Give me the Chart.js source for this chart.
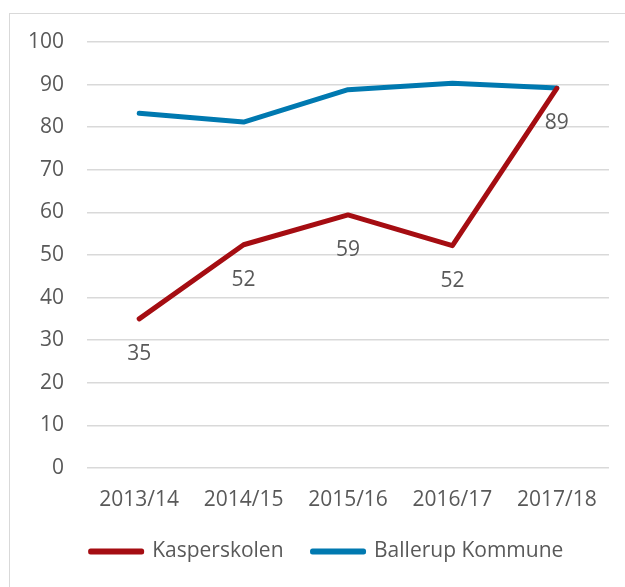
<!DOCTYPE html>
<html>
<head>
<meta charset="utf-8">
<script src="https://cdn.jsdelivr.net/npm/chart.js@4/dist/chart.umd.min.js"></script>
<style>
  html, body { margin: 0; padding: 0; background: #fff; overflow: hidden; }
  #frame { position: absolute; left: 9px; top: 13px; width: 660px; height: 620px; border: 1.5px solid #d9d9d9; }
  #wrap { position: absolute; left: 0; top: 0; width: 625px; height: 587px; }
</style>
</head>
<body>
<div id="frame"></div>
<div id="wrap"><canvas id="chart"></canvas></div>
<script>
var years = ['2013/14', '2014/15', '2015/16', '2016/17', '2017/18'];
var kasperskolen = [35, 52.4, 59.4, 52.2, 89.1];
var ballerup = [83.3, 81.2, 88.8, 90.3, 89.2];
var yTicks = [0, 10, 20, 30, 40, 50, 60, 70, 80, 90, 100];

var textColor = '#595959';
var fontFamily = "'Open Sans', sans-serif";
var fontSize = 21;

// labels under the red line, like the excel data labels
var pointLabels = {
  id: 'pointLabels',
  beforeDraw: function(chart) {
    // center the legend on the whole frame, not the canvas
    chart.legend.left = 45;
    chart.legend.right = 609;
  },
  afterDatasetsDraw: function(chart) {
    var ctx = chart.ctx;
    var meta = chart.getDatasetMeta(0);
    ctx.save();
    ctx.font = fontSize + 'px ' + fontFamily;
    ctx.fillStyle = textColor;
    ctx.textAlign = 'center';
    ctx.textBaseline = 'middle';
    meta.data.forEach(function(pt, i) {
      ctx.fillText(Math.round(kasperskolen[i]), pt.x, pt.y + 35);
    });
    ctx.restore();
  }
};

var ctx = document.getElementById('chart').getContext('2d');
new Chart(ctx, {
  type: 'line',
  data: {
    labels: years,
    datasets: [
      {
        label: 'Kasperskolen',
        data: kasperskolen,
        borderColor: '#a50d12',
        backgroundColor: '#a50d12',
        borderWidth: 5,
        borderCapStyle: 'round',
        borderJoinStyle: 'round',
        pointRadius: 0,
        tension: 0
      },
      {
        label: 'Ballerup Kommune',
        data: ballerup,
        borderColor: '#0079b0',
        backgroundColor: '#0079b0',
        borderWidth: 5,
        borderCapStyle: 'round',
        borderJoinStyle: 'round',
        pointRadius: 0,
        tension: 0
      }
    ]
  },
  options: {
    responsive: true,
    maintainAspectRatio: false,
    animation: false,
    layout: {
      padding: { top: 42, left: 0, right: 16, bottom: 15 }
    },
    scales: {
      x: {
        offset: true,
        grid: { display: false, drawTicks: false },
        border: { display: false },
        ticks: { color: textColor, font: { size: fontSize, family: fontFamily }, padding: 19, maxRotation: 0 },
        afterFit: function(scale) { scale.height = 44; }
      },
      y: {
        min: 0,
        max: 100,
        afterBuildTicks: function(scale) {
          scale.ticks = yTicks.map(function(v) { return { value: v }; });
        },
        grid: { color: '#d9d9d9', lineWidth: 1.5, drawTicks: false },
        border: { display: false },
        ticks: { color: textColor, font: { size: fontSize, family: fontFamily }, padding: 23 },
        afterFit: function(scale) { scale.width = 87; }
      }
    },
    plugins: {
      legend: {
        position: 'bottom',
        labels: {
          color: textColor,
          font: { size: fontSize, family: fontFamily },
          boxWidth: 51,
          boxHeight: 1,
          padding: 29
        }
      },
      tooltip: { enabled: false }
    }
  },
  plugins: [pointLabels]
});
</script>
</body>
</html>
